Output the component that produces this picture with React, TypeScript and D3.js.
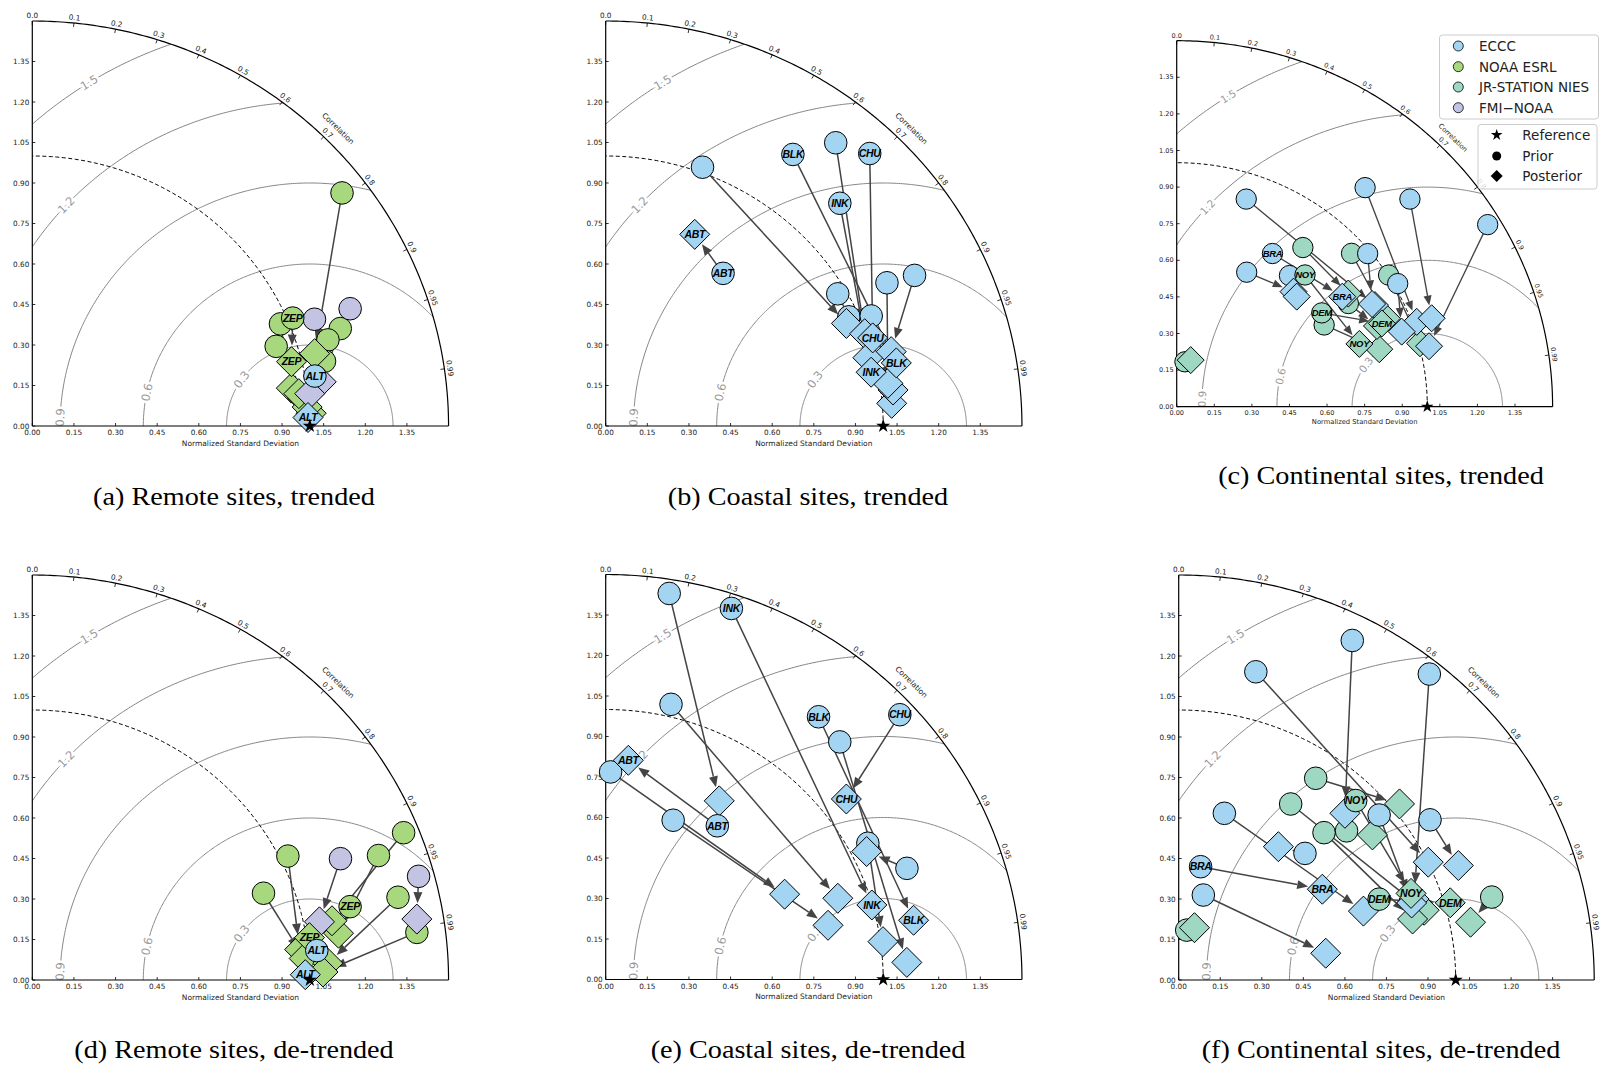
import React from "react";
import * as d3 from "d3";

type Rec = { net: string; site: string; priorStd: number; priorCorr: number; postStd: number; postCorr: number };
const s = (net: string, site: string, priorStd: number, priorCorr: number, postStd: number, postCorr: number): Rec => ({ net, site, priorStd, priorCorr, postStd, postCorr });

// ---------- DATA (normalized std, correlation) ----------
const remoteTrended: Rec[] = [
  s("NOAA", "", 1.411, 0.791, 1.052, 0.967),
  s("NOAA", "", 0.971, 0.921, 0.944, 0.9889),
  s("NOAA", "", 0.927, 0.948, 0.980, 0.9946),
  s("NOAA", "", 1.167, 0.951, 1.006, 0.9989),
  s("NOAA", "", 1.112, 0.958, 0.993, 0.9975),
  s("NOAA", "", 1.080, 0.975, 0.968, 0.9923),
  s("FMI", "", 1.091, 0.932, 1.054, 0.9879),
  s("FMI", "", 1.225, 0.935, 1.007, 0.9929),
  s("NOAA", "ZEP", 1.020, 0.920, 0.964, 0.969),
  s("ECCC", "ALT", 1.035, 0.9839, 0.994, 0.9995),
];

const coastalTrended: Rec[] = [
  s("ECCC", "", 1.020, 0.342, 0.947, 0.916),
  s("ECCC", "", 1.337, 0.620, 0.994, 0.939),
  s("ECCC", "", 0.969, 0.863, 0.978, 0.966),
  s("ECCC", "", 0.965, 0.908, 1.034, 0.9967),
  s("ECCC", "", 1.040, 0.920, 1.044, 0.9918),
  s("ECCC", "", 1.144, 0.886, 1.029, 0.9881),
  s("ECCC", "", 1.245, 0.894, 1.065, 0.966),
  s("ECCC", "ABT", 0.706, 0.599, 0.779, 0.412),
  s("ECCC", "BLK", 1.211, 0.557, 1.073, 0.976),
  s("ECCC", "CHU", 1.387, 0.686, 1.016, 0.947),
  s("ECCC", "INK", 1.180, 0.715, 0.977, 0.979),
];

const continentalTrended: Rec[] = [
  s("JR", "", 0.824, 0.611, 0.827, 0.828),
  s("JR", "", 0.939, 0.743, 0.913, 0.918),
  s("JR", "", 1.003, 0.843, 1.005, 0.966),
  s("JR", "", 0.677, 0.869, 0.842, 0.960),
  s("JR", "", 0.805, 0.851, 0.865, 0.924),
  s("JR", "", 0.187, 0.176, 0.199, 0.281),
  s("ECCC", "", 0.895, 0.310, 0.894, 0.885),
  s("ECCC", "", 0.618, 0.452, 0.663, 0.703),
  s("ECCC", "", 0.701, 0.642, 0.658, 0.728),
  s("ECCC", "", 1.171, 0.642, 1.019, 0.940),
  s("ECCC", "", 1.261, 0.738, 1.080, 0.942),
  s("ECCC", "", 0.987, 0.772, 0.886, 0.880),
  s("ECCC", "", 1.016, 0.868, 0.949, 0.946),
  s("ECCC", "", 1.448, 0.857, 1.037, 0.971),
  s("JR", "NOY", 0.744, 0.688, 0.773, 0.943),
  s("JR", "DEM", 0.695, 0.833, 0.887, 0.923),
  s("ECCC", "BRA", 0.735, 0.520, 0.800, 0.826),
];

const remoteDetrended: Rec[] = [
  s("NOAA", "", 1.029, 0.895, 0.970, 0.9932),
  s("NOAA", "", 0.893, 0.933, 0.983, 0.9967),
  s("NOAA", "", 1.330, 0.938, 1.117, 0.9879),
  s("NOAA", "", 1.445, 0.926, 1.102, 0.980),
  s("NOAA", "", 1.353, 0.974, 1.067, 0.9983),
  s("NOAA", "", 1.397, 0.992, 1.048, 0.9996),
  s("FMI", "", 1.198, 0.927, 1.057, 0.979),
  s("FMI", "", 1.444, 0.964, 1.404, 0.987),
  s("NOAA", "ZEP", 1.177, 0.973, 1.011, 0.9879),
  s("ECCC", "ALT", 1.031, 0.9944, 0.984, 0.9998),
];

const coastalDetrended: Rec[] = [
  s("ECCC", "", 1.448, 0.158, 0.778, 0.526),
  s("ECCC", "", 1.046, 0.225, 0.889, 0.941),
  s("ECCC", "", 1.219, 0.692, 1.087, 0.9983),
  s("ECCC", "", 0.769, 0.023, 0.718, 0.898),
  s("ECCC", "", 0.638, 0.381, 0.826, 0.970),
  s("ECCC", "", 1.071, 0.882, 1.009, 0.9903),
  s("ECCC", "", 1.161, 0.935, 1.053, 0.893),
  s("ECCC", "INK", 1.447, 0.313, 0.998, 0.961),
  s("ECCC", "BLK", 1.239, 0.619, 1.131, 0.981),
  s("ECCC", "CHU", 1.444, 0.734, 1.095, 0.792),
  s("ECCC", "ABT", 0.697, 0.577, 0.816, 0.100),
];

const continentalDetrended: Rec[] = [
  s("JR", "", 0.896, 0.552, 1.030, 0.774),
  s("JR", "", 0.767, 0.527, 0.923, 0.960),
  s("JR", "", 0.757, 0.693, 0.874, 0.966),
  s("JR", "", 0.820, 0.739, 0.882, 0.793),
  s("JR", "", 1.171, 0.965, 1.075, 0.980),
  s("JR", "", 0.187, 0.155, 0.202, 0.282),
  s("ECCC", "", 1.175, 0.237, 1.001, 0.900),
  s("ECCC", "", 1.405, 0.446, 0.861, 0.697),
  s("ECCC", "", 1.450, 0.624, 0.901, 0.943),
  s("ECCC", "", 0.639, 0.258, 0.714, 0.934),
  s("ECCC", "", 0.947, 0.764, 0.888, 0.947),
  s("ECCC", "", 1.084, 0.837, 1.095, 0.922),
  s("ECCC", "", 0.654, 0.697, 0.611, 0.589),
  s("ECCC", "", 0.327, 0.272, 0.540, 0.983),
  s("JR", "NOY", 0.922, 0.693, 0.898, 0.934),
  s("JR", "DEM", 0.783, 0.924, 1.021, 0.960),
  s("ECCC", "BRA", 0.427, 0.185, 0.618, 0.839),
];

const networkCodes = ["ECCC", "NOAA", "JR", "FMI"];
const networkNames = ["ECCC", "NOAA ESRL", "JR-STATION NIES", "FMI\u2212NOAA"];
const networkColors = ["#a3d4f1", "#a8d87e", "#9fd8c2", "#c3c3e3"];
const drawOrder = ["NOAA", "FMI", "JR", "ECCC"];
const markerLegend = ["Reference", "Prior", "Posterior"];

const corrTicks = [0, 0.1, 0.2, 0.3, 0.4, 0.5, 0.6, 0.7, 0.8, 0.9, 0.95, 0.99];
const corrTickLabels = ["0.0", "0.1", "0.2", "0.3", "0.4", "0.5", "0.6", "0.7", "0.8", "0.9", "0.95", "0.99"];
const stdTicks = [0, 0.15, 0.3, 0.45, 0.6, 0.75, 0.9, 1.05, 1.2, 1.35];
const rmsLevels = [0.3, 0.6, 0.9, 1.2, 1.5];
const rmsLabelAngles = [145, 168, 178, 137, 122];
const refStd = 1.0;
const STD_MAX = 1.5;

const panelTitles = [
  "(a) Remote sites, trended",
  "(b) Coastal sites, trended",
  "(c) Continental sites, trended",
  "(d) Remote sites, de-trended",
  "(e) Coastal sites, de-trended",
  "(f) Continental sites, de-trended",
];
const panelData = [remoteTrended, coastalTrended, continentalTrended, remoteDetrended, coastalDetrended, continentalDetrended];

// ---------- LAYOUT ----------
type Layout = { ox: number; oy: number; sx: number; sy: number; k: number; tx: number; ty: number; legend: boolean };
const layouts: Layout[] = [
  { ox: 32.3, oy: 426, sx: 277.5, sy: 270, k: 1, tx: 234, ty: 505, legend: false },
  { ox: 605.7, oy: 426, sx: 277.5, sy: 270, k: 1, tx: 808, ty: 505, legend: false },
  { ox: 1176.7, oy: 406.7, sx: 250.6, sy: 244, k: 0.9, tx: 1381, ty: 483.5, legend: true },
  { ox: 32.3, oy: 980, sx: 277.5, sy: 270, k: 1, tx: 234, ty: 1058, legend: false },
  { ox: 605.7, oy: 979.5, sx: 277.5, sy: 270, k: 1, tx: 808, ty: 1058, legend: false },
  { ox: 1178.7, oy: 980, sx: 277, sy: 270, k: 1, tx: 1381, ty: 1058, legend: false },
];

const colorOf = (net: string) => networkColors[networkCodes.indexOf(net)];
const TICK_FONT = "DejaVu Sans";
const rad = Math.PI / 180;

function Panel({ idx }: { idx: number }) {
  const L = layouts[idx];
  const data = panelData[idx];
  const { ox, oy, sx, sy, k } = L;
  const x = d3.scaleLinear().domain([0, STD_MAX]).range([ox, ox + STD_MAX * sx]);
  const y = d3.scaleLinear().domain([0, STD_MAX]).range([oy, oy - STD_MAX * sy]);
  const line = d3.line<[number, number]>();
  const polar = (r: number, th: number): [number, number] => [x(r * Math.cos(th)), y(r * Math.sin(th))];
  const stat = (std: number, corr: number): [number, number] => [
    x(std * corr),
    y(std * Math.sqrt(Math.max(0, 1 - corr * corr))),
  ];
  const arcPts = (r: number) => d3.range(0, 90.001, 0.5).map((d) => polar(r, d * rad));
  const tangentDeg = (th: number) => Math.atan2(sy * Math.cos(th), sx * Math.sin(th)) / rad;
  const clipId = `clip${idx}`;
  const clipD = line([[x(0), y(0)], ...arcPts(STD_MAX)]) + "Z";

  const circleR = 11.3 * k;
  const diaH = 15 * k;
  const diamond = (cx: number, cy: number, h: number) => `M${cx},${cy - h}L${cx + h},${cy}L${cx},${cy + h}L${cx - h},${cy}Z`;

  const arrows = data.map((d, i) => {
    const [x0, y0] = stat(d.priorStd, d.priorCorr);
    const [x1, y1] = stat(d.postStd, d.postCorr);
    const dx = x1 - x0, dy = y1 - y0;
    const len = Math.hypot(dx, dy);
    const ux = dx / len, uy = dy / len;
    const shrink = diaH / (Math.abs(ux) + Math.abs(uy)) + 1.5 * k;
    if (len < shrink + 4) return null;
    const tx = x1 - ux * shrink, ty = y1 - uy * shrink;
    const head = 11 * k, hw = 4.5 * k;
    const bx = tx - ux * head, by = ty - uy * head;
    const nx = -uy, ny = ux;
    return (
      <g key={"a" + i}>
        <line x1={x0} y1={y0} x2={bx} y2={by} stroke="#444" strokeWidth={1.5 * k} />
        <path d={`M${tx},${ty}L${bx + nx * hw},${by + ny * hw}L${bx - nx * hw},${by - ny * hw}Z`} fill="#444" />
      </g>
    );
  });

  const labelStyle = {
    fontFamily: "Liberation Sans",
    fontWeight: 700,
    fontStyle: "italic",
    fontSize: 10.5 * k,
    letterSpacing: -0.3,
  } as React.CSSProperties;

  const markers: React.ReactNode[] = [];
  drawOrder.forEach((net) => {
    const rows = data.filter((d) => d.net === net && d.site === "");
    rows.forEach((d, i) => {
      const [cx, cy] = stat(d.priorStd, d.priorCorr);
      markers.push(<circle key={`c${net}${i}`} cx={cx} cy={cy} r={circleR} fill={colorOf(net)} stroke="#000" strokeWidth={1} />);
    });
    rows.forEach((d, i) => {
      const [cx, cy] = stat(d.postStd, d.postCorr);
      markers.push(<path key={`d${net}${i}`} d={diamond(cx, cy, diaH)} fill={colorOf(net)} stroke="#000" strokeWidth={1} />);
    });
  });
  drawOrder.forEach((net) => {
    data.filter((d) => d.net === net && d.site !== "").forEach((d, i) => {
      const [cx, cy] = stat(d.priorStd, d.priorCorr);
      const [px, py] = stat(d.postStd, d.postCorr);
      markers.push(
        <g key={`l${net}${i}`}>
          <circle cx={cx} cy={cy} r={circleR} fill={colorOf(net)} stroke="#000" strokeWidth={1} />
          <text x={cx} y={cy} dy="0.36em" textAnchor="middle" style={labelStyle}>{d.site}</text>
          <path d={diamond(px, py, diaH)} fill={colorOf(net)} stroke="#000" strokeWidth={1} />
          <text x={px} y={py} dy="0.36em" textAnchor="middle" style={labelStyle}>{d.site}</text>
        </g>
      );
    });
  });

  const tickFs = 7.3 * k;
  const star = d3.symbol(d3.symbolStar, 62 * k * k)();
  const [refX, refY] = stat(refStd, 1);

  return (
    <g>
      <defs>
        <clipPath id={clipId}>
          <path d={clipD} />
        </clipPath>
      </defs>
      {/* RMS contours */}
      <g clipPath={`url(#${clipId})`}>
        {rmsLevels.map((R) => (
          <path
            key={"rms" + R}
            d={line(d3.range(0, 180.001, 0.5).map((a) => [x(refStd + R * Math.cos(a * rad)), y(R * Math.sin(a * rad))] as [number, number])) || ""}
            fill="none"
            stroke="#858585"
            strokeWidth={1}
          />
        ))}
      </g>
      {rmsLevels.map((R, i) => {
        const a = rmsLabelAngles[i] * rad;
        const px = x(refStd + R * Math.cos(a)), py = y(R * Math.sin(a));
        return (
          <text
            key={"rl" + R}
            transform={`translate(${px},${py}) rotate(${tangentDeg(a)})`}
            textAnchor="middle"
            dominantBaseline="central"
            fontFamily={TICK_FONT}
            fontSize={11.5 * k}
            fill="#999"
            stroke="#fff"
            strokeWidth={5}
            paintOrder="stroke"
          >
            {R.toFixed(1)}
          </text>
        );
      })}
      {/* reference std dashed arc */}
      <path d={line(arcPts(refStd)) || ""} fill="none" stroke="#000" strokeWidth={1} strokeDasharray="4,2.5" />
      {/* axes */}
      <path d={line(arcPts(STD_MAX)) || ""} fill="none" stroke="#000" strokeWidth={1.2} />
      <line x1={x(0)} y1={y(0)} x2={x(0)} y2={y(STD_MAX)} stroke="#000" strokeWidth={1.2} />
      <line x1={x(0)} y1={y(0)} x2={x(STD_MAX)} y2={y(0)} stroke="#000" strokeWidth={1.2} />
      {stdTicks.map((v) => (
        <g key={"st" + v}>
          <line x1={x(0)} y1={y(v)} x2={x(0) + 3} y2={y(v)} stroke="#000" strokeWidth={0.8} />
          <text x={x(0) - 3} y={y(v)} textAnchor="end" dominantBaseline="central" fontFamily={TICK_FONT} fontSize={tickFs} fill="#222">
            {d3.format(".2f")(v)}
          </text>
          <line x1={x(v)} y1={y(0)} x2={x(v)} y2={y(0) - 3} stroke="#000" strokeWidth={0.8} />
          <text x={x(v)} y={y(0) + 9 * k} textAnchor="middle" fontFamily={TICK_FONT} fontSize={tickFs} fill="#222">
            {d3.format(".2f")(v)}
          </text>
        </g>
      ))}
      <text x={x(STD_MAX / 2)} y={y(0) + 19.5 * k} textAnchor="middle" fontFamily={TICK_FONT} fontSize={7.5 * k} fill="#222">
        Normalized Standard Deviation
      </text>
      {corrTicks.map((c, i) => {
        const th = Math.acos(c);
        const [ax, ay] = polar(STD_MAX, th);
        const [bx, by] = polar(STD_MAX - 4 / sx, th);
        const [lx, ly] = polar(STD_MAX + 0.02, th);
        return (
          <g key={"ct" + c}>
            <line x1={ax} y1={ay} x2={bx} y2={by} stroke="#000" strokeWidth={0.8} />
            <text
              transform={`translate(${lx},${ly}) rotate(${tangentDeg(th)})`}
              textAnchor="middle"
              dominantBaseline="central"
              fontFamily={TICK_FONT}
              fontSize={tickFs}
              fill="#222"
            >
              {corrTickLabels[i]}
            </text>
          </g>
        );
      })}
      {(() => {
        const th = 45 * rad;
        const [lx, ly] = polar(STD_MAX + 0.058, th);
        return (
          <text transform={`translate(${lx},${ly}) rotate(${tangentDeg(th)})`} textAnchor="middle" dominantBaseline="central" fontFamily={TICK_FONT} fontSize={7.5 * k} fill="#222">
            Correlation
          </text>
        );
      })()}
      {arrows}
      {markers}
      <path d={star || ""} transform={`translate(${refX},${refY})`} fill="#000" />
      <text
        transform={`translate(${L.tx},${L.ty}) scale(1.085,1)`}
        textAnchor="middle"
        fontFamily="Liberation Serif"
        fontSize={26}
        fill="#000"
      >
        {panelTitles[idx]}
      </text>
      {L.legend && <Legend />}
    </g>
  );
}

function Legend() {
  const star = d3.symbol(d3.symbolStar, 42)();
  const dia = (cx: number, cy: number, h: number) => `M${cx},${cy - h}L${cx + h},${cy}L${cx},${cy + h}L${cx - h},${cy}Z`;
  const rowsY = [46, 66.7, 87, 107.7];
  const rows2Y = [135, 156, 176];
  return (
    <g fontFamily={TICK_FONT} fontSize={13.5} fill="#222">
      <rect x={1439.5} y={35} width={159} height={84} rx={3} fill="#fff" fillOpacity={0.8} stroke="#cccccc" strokeWidth={1} />
      {networkNames.map((n, i) => (
        <g key={n}>
          <circle cx={1458.3} cy={rowsY[i]} r={5} fill={networkColors[i]} stroke="#000" strokeWidth={0.8} />
          <text x={1479} y={rowsY[i] + 5}>{n}</text>
        </g>
      ))}
      <rect x={1478} y={124.5} width={119} height={64.5} rx={3} fill="#fff" fillOpacity={0.8} stroke="#cccccc" strokeWidth={1} />
      <path d={star || ""} transform={`translate(1496.7,${rows2Y[0]})`} fill="#000" />
      <circle cx={1496.7} cy={rows2Y[1]} r={4.5} fill="#000" />
      <path d={dia(1496.7, rows2Y[2], 6)} fill="#000" />
      {markerLegend.map((m, i) => (
        <text key={m} x={1522.3} y={rows2Y[i] + 5}>{m}</text>
      ))}
    </g>
  );
}

export default function App() {
  return (
    <div style={{ position: "absolute", left: 0, top: 0, width: 1613, height: 1078 }}>
      <svg width={1613} height={1078} style={{ display: "block" }}>
        <rect x={0} y={0} width={1613} height={1078} fill="#fff" />
        {layouts.map((_, i) => (
          <Panel key={i} idx={i} />
        ))}
      </svg>
    </div>
  );
}
